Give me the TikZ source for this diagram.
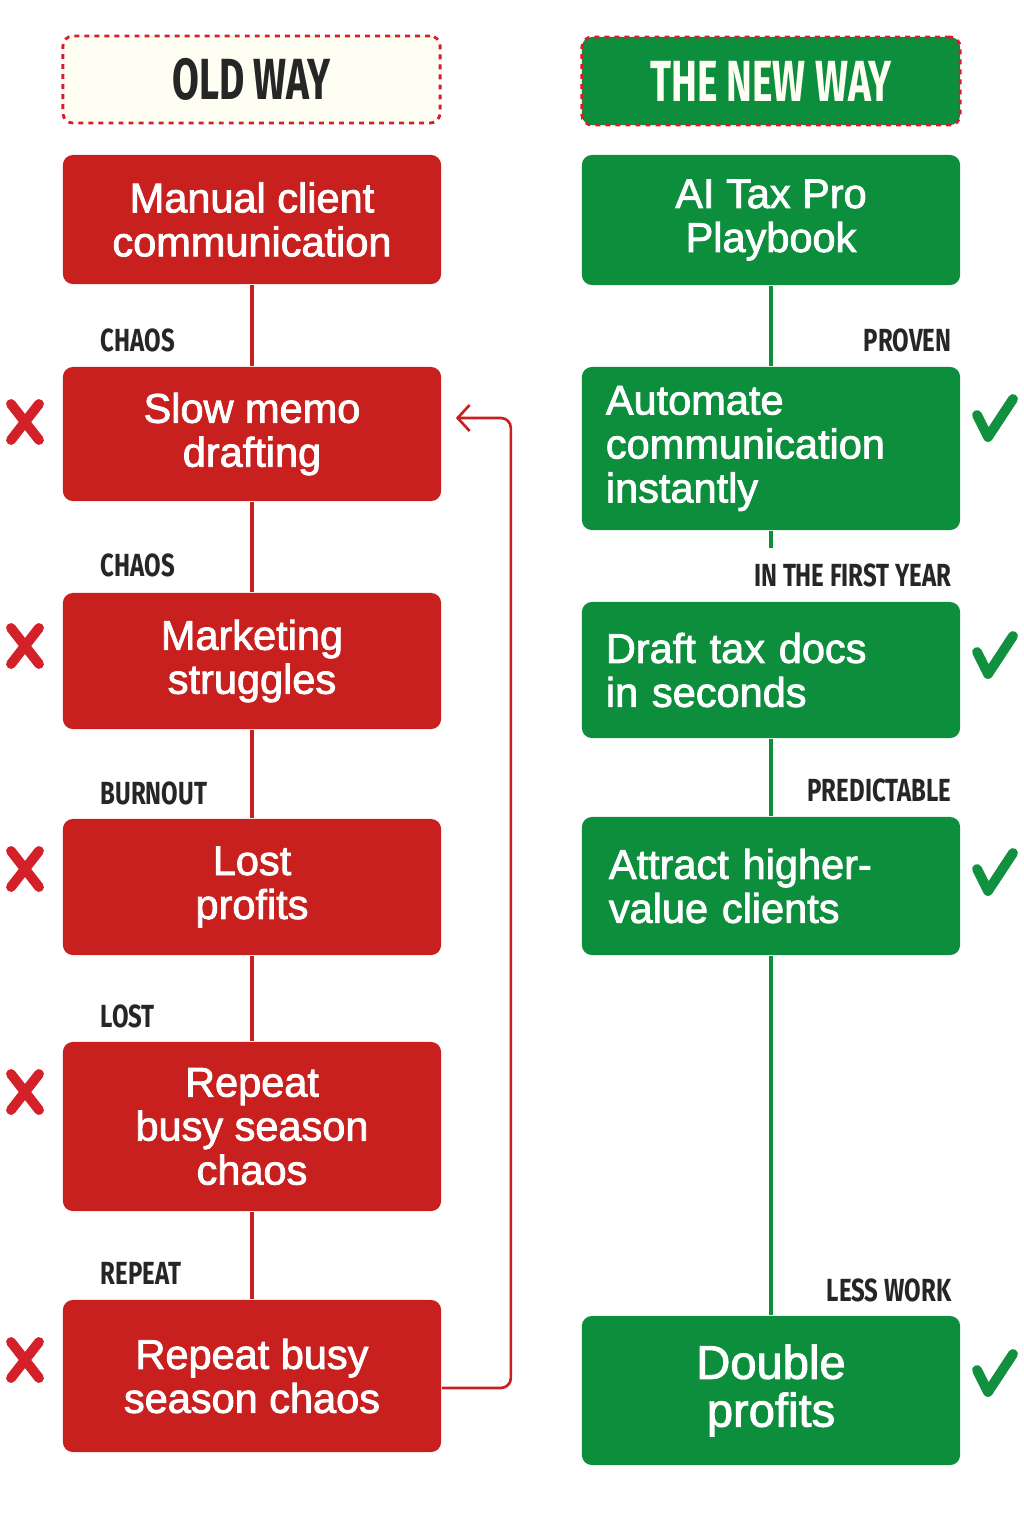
\documentclass[tikz,border=0pt]{standalone}
\usepackage{fontspec}
\setmainfont{Liberation Sans}[FakeBold=2]
\newfontfamily\headfont{Fira Sans}[FakeStretch=0.67]
\newfontfamily\tagfont{Fira Sans}[FakeStretch=0.75]
\usetikzlibrary{arrows.meta}
\definecolor{oldred}{HTML}{C8201F}
\definecolor{newgreen}{HTML}{0D8E3D}
\definecolor{dashred}{HTML}{D91C2C}
\definecolor{cream}{HTML}{FFFEF3}
\definecolor{tagink}{HTML}{262626}
\definecolor{markred}{HTML}{D42028}
\definecolor{markgreen}{HTML}{11913F}

\tikzset{
  stage/.style={rounded corners=0.1cm, minimum width=3.78cm, inner sep=0pt, text=white, font=\fontsize{11.8}{12.5}\selectfont},
  oldstage/.style={stage, fill=oldred, align=center},
  newstage/.style={stage, fill=newgreen},
  header/.style={rounded corners=0.1cm, draw=dashred, line width=0.8pt, dash pattern=on 1.4pt off 1.45pt, minimum width=3.77cm, minimum height=0.87cm, font=\headfont\bfseries\fontsize{16.5}{17}\selectfont},
  waylabel/.style={font=\tagfont\bfseries\fontsize{9.1}{10}\selectfont, text=tagink, inner sep=0pt},
  oldlink/.style={draw=oldred, line width=0.9pt},
  newlink/.style={draw=newgreen, line width=0.9pt},
  looparrow/.style={draw=oldred, line width=0.75pt, rounded corners=0.1cm, -{Straight Barb[length=1.2mm,width=2.6mm]}},
  crossmark/.pic={\draw[markred, line width=2.8pt, line cap=round] (-14,-18) -- (14,18) (-14,18) -- (14,-18);},
  tickmark/.pic={\draw[markgreen, line width=2.8pt, line cap=round, line join=round] (-18,-3) -- (-7,19) -- (18,-19);}
}

\begin{document}
\begin{tikzpicture}[x=0.01cm, y=-0.01cm]
\useasboundingbox (0,0) rectangle (1024,1536);
% the two headers
\node[header, fill=cream, text=tagink] (oldhead) at (251.5,79.5) {OLD WAY};
\node[header, fill=newgreen, text=cream, minimum width=3.78cm, minimum height=0.88cm] (newhead) at (771,81) {THE NEW WAY};
% old way column
\foreach \n/\y/\h/\t in {1/219.5/1.29/{Manual client\\communication}, 2/434/1.34/{Slow memo\\drafting}, 3/661/1.36/{Marketing\\struggles}, 4/887/1.36/{Lost\\profits}, 5/1126.5/1.69/{Repeat\\busy season\\chaos}, 6/1376/1.52/{Repeat busy\\season chaos}}
  \node[oldstage, minimum height=\h cm] (old\n) at (252,\y) {\t};
\foreach \a/\b in {1/2, 2/3, 3/4, 4/5, 5/6} \draw[oldlink] (old\a) -- (old\b);
\foreach \y/\t [count=\i] in {340/CHAOS, 565/CHAOS, 793/BURNOUT, 1016/LOST, 1273/REPEAT}
  \node[waylabel, anchor=west] (oldtag\i) at (100,\y) {\t};
\foreach \y in {422, 646, 869, 1092, 1360} \pic at (25,\y) {crossmark};
% back to the second step
\draw[looparrow] ([yshift=-0.12cm]old6.east) -| ([xshift=0.69cm, yshift=0.16cm]old2.east) -- ([xshift=0.14cm, yshift=0.16cm]old2.east);
% new way column
\node[newstage, align=center, minimum height=1.30cm] (new1) at (771,220) {AI Tax Pro\\Playbook};
\node[newstage, align=left, text width=3.3cm, minimum height=1.63cm] (new2) at (771,448.5) {Automate\\communication\\instantly};
\node[newstage, align=left, text width=3.3cm, minimum height=1.36cm] (new3) at (771,670) {Draft tax docs\\in seconds};
\node[newstage, align=left, text width=3.24cm, minimum height=1.38cm] (new4) at (771,886) {Attract higher-\\value clients};
\node[newstage, align=center, minimum height=1.49cm, font=\fontsize{13.4}{13.6}\selectfont] (new5) at (771,1390.5) {Double\\profits};
\coordinate (stub) at (771,548);
\draw[newlink] (new1) -- (new2);
\draw[newlink] (new2) -- (stub);
\draw[newlink] (new3) -- (new4);
\draw[newlink] (new4) -- (new5);
\foreach \y/\t [count=\i] in {340/PROVEN, 575/IN THE FIRST YEAR, 790/PREDICTABLE, 1290/LESS WORK}
  \node[waylabel, anchor=east] (newtag\i) at (952,\y) {\t};
\foreach \y in {418, 655, 872, 1373} \pic at (995,\y) {tickmark};
\end{tikzpicture}
\end{document}
